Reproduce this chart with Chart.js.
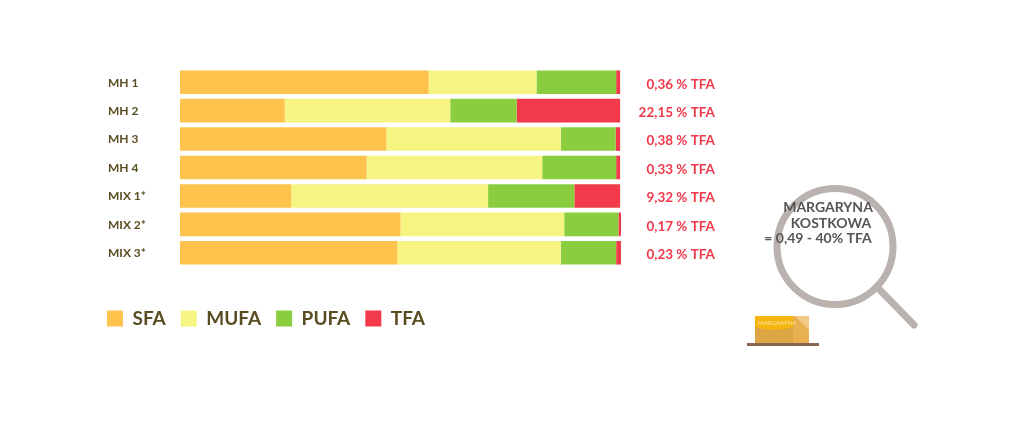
<!DOCTYPE html>
<html>
<head>
<meta charset="utf-8">
<style>
  html, body { margin: 0; padding: 0; background: #fff; }
  #wrap { width: 1024px; height: 427px; }
</style>
<script src="https://cdn.jsdelivr.net/npm/chart.js@4"></script>
</head>
<body>
<div id="wrap"><canvas id="chart"></canvas></div>
<script>
// values, in % of bar length
const categories = ['MH 1', 'MH 2', 'MH 3', 'MH 4', 'MIX 1*', 'MIX 2*', 'MIX 3*'];
const tfaLabels = ['0,36 % TFA', '22,15 % TFA', '0,38 % TFA', '0,33 % TFA', '9,32 % TFA', '0,17 % TFA', '0,23 % TFA'];
const sfa = [56.5, 23.8, 46.9, 42.4, 25.3, 50.1, 49.4];
const mufa = [24.5, 37.6, 39.6, 39.9, 44.7, 37.2, 37.1];
const pufa = [18.1, 15.1, 12.5, 16.8, 19.6, 12.3, 12.6];
const tfa = [0.9, 23.5, 1.0, 0.9, 10.4, 0.6, 1.1];
const calloutLines = ['MARGARYNA', 'KOSTKOWA', '= 0,49 - 40% TFA'];

const FONT = 'Lato, "Open Sans", sans-serif';
const DARK = '#5a4d22';
const RED = '#f0384a';

// the magnifier and the margarine box are just decoration
const decoration = {
  id: 'decoration',
  afterLayout(chart) {
    const legend = chart.legend;
    const pad = legend.options.labels.padding;
    legend.left = 107 - pad;
    legend.right = legend.left + legend.width;
    legend.top = 309 - pad;
    legend.bottom = legend.top + legend.height + 10;
  },
  beforeDraw(chart) {
    // nudge the tick labels down a little
    chart.scales.y.getLabelItems().forEach(i => { i.options.translation[1] += 0.5; });
    chart.scales.y2.getLabelItems().forEach(i => { i.options.translation[1] += 2; });
  },
  afterDraw(chart) {
    const c = chart.ctx;
    c.save();
    c.strokeStyle = '#b9b2ae';
    c.lineWidth = 7;
    c.beginPath();
    c.arc(835, 246.5, 58, 0, Math.PI * 2);
    c.stroke();
    c.lineCap = 'round';
    c.beginPath();
    c.moveTo(878, 288);
    c.lineTo(914, 325);
    c.stroke();

    c.fillStyle = '#dba643';
    c.fillRect(755, 316, 54, 27);
    c.fillStyle = '#e8b04e';
    c.fillRect(793, 316, 16, 27);
    c.fillStyle = '#f0c987';
    c.beginPath();
    c.moveTo(795, 316);
    c.lineTo(809, 316);
    c.lineTo(809, 330);
    c.closePath();
    c.fill();
    c.fillStyle = '#f6b511';
    c.beginPath();
    c.moveTo(755, 316);
    c.lineTo(793, 316);
    c.lineTo(793, 327);
    c.quadraticCurveTo(774, 333, 755, 327);
    c.closePath();
    c.fill();
    c.fillStyle = '#f7dc85';
    c.font = 'bold 6px ' + FONT;
    c.textAlign = 'left';
    c.textBaseline = 'middle';
    c.fillText('MARGARYNA', 758, 323);
    c.fillStyle = '#8a6553';
    c.fillRect(747, 343, 72, 3);

    c.fillStyle = '#555555';
    c.font = 'bold 14px ' + FONT;
    c.textAlign = 'center';
    c.fillText(calloutLines[0], 828, 207.5);
    c.fillText(calloutLines[1], 831, 223.5);
    c.fillText(calloutLines[2], 818, 238);
    c.restore();
  }
};

function fixWidth(w) {
  return function (scale) { scale.width = w; };
}

new Chart(document.getElementById('chart'), {
  type: 'bar',
  data: {
    labels: categories,
    datasets: [
      { label: 'SFA', data: sfa, backgroundColor: '#fdc34c' },
      { label: 'MUFA', data: mufa, backgroundColor: '#f6f582' },
      { label: 'PUFA', data: pufa, backgroundColor: '#8ace3f' },
      { label: 'TFA', data: tfa, backgroundColor: '#f23a4b' }
    ]
  },
  options: {
    indexAxis: 'y',
    responsive: true,
    maintainAspectRatio: false,
    animation: false,
    datasets: { bar: { barPercentage: 0.83, categoryPercentage: 1, borderWidth: 0 } },
    layout: { padding: { left: 108, right: 309, top: 68, bottom: 116 } },
    scales: {
      x: { stacked: true, min: 0, max: 100.2, display: false },
      y: {
        stacked: true,
        grid: { display: false },
        border: { display: false },
        afterFit: fixWidth(72),
        ticks: { crossAlign: 'far', padding: 0, color: DARK, font: { family: FONT, size: 12, weight: 'bold' } }
      },
      y2: {
        type: 'category',
        position: 'right',
        labels: tfaLabels,
        offset: true,
        grid: { display: false },
        border: { display: false },
        afterFit: fixWidth(94),
        ticks: { crossAlign: 'far', padding: 0, color: RED, font: { family: FONT, size: 13.5, weight: 'bold' } }
      }
    },
    plugins: {
      tooltip: { enabled: false },
      legend: {
        position: 'bottom',
        align: 'start',
        labels: {
          boxWidth: 16,
          boxHeight: 16,
          padding: 15,
          color: DARK,
          font: { family: FONT, size: 19, weight: 'bold' }
        }
      }
    }
  },
  plugins: [decoration]
});
</script>
</body>
</html>
